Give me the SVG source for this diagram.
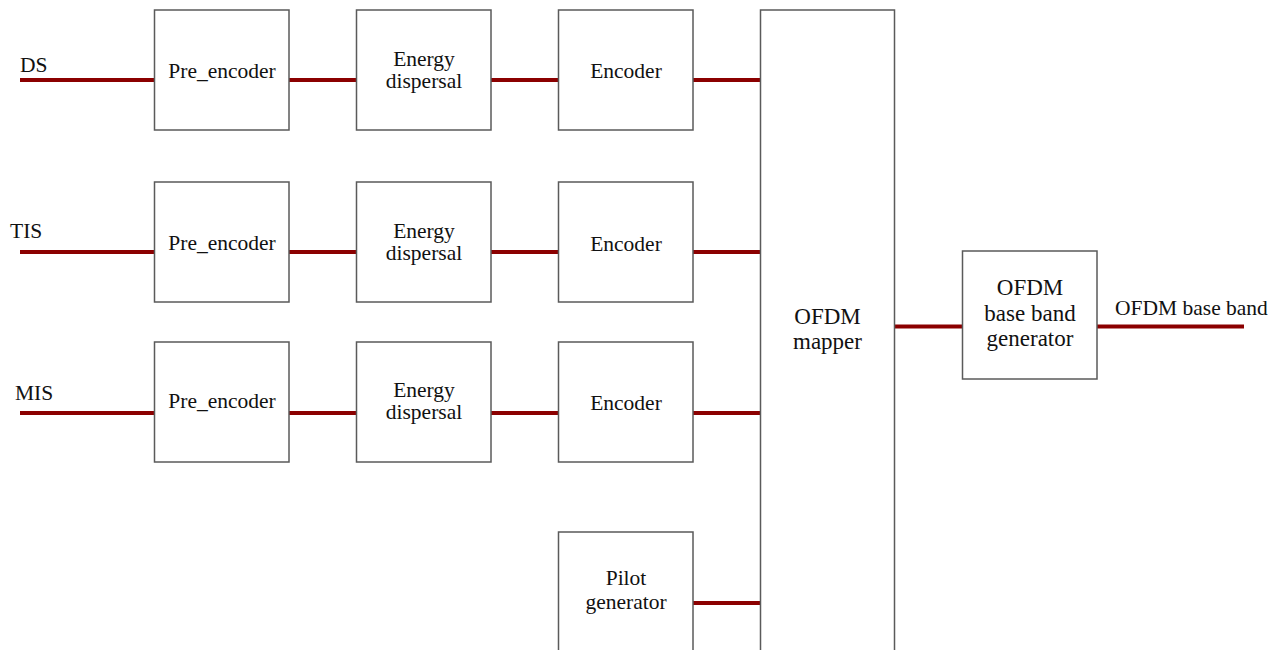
<svg xmlns="http://www.w3.org/2000/svg" width="1277" height="650" viewBox="0 0 1277 650">
<style>
.box{fill:#fff;stroke:#5a5a5a;stroke-width:1.5}
text{fill:#111;font-size:21.5px;font-family:"Liberation Serif","Tinos","Times New Roman","Noto Serif","DejaVu Serif",serif}
.t{text-anchor:middle}
.big{font-size:23px}
.w{stroke:#8b0000;stroke-width:4;fill:none}
</style>
<rect width="1277" height="650" fill="#fff"/>
<g id="connectors">
<line class="w" x1="20" y1="80" x2="154" y2="80"/>
<line class="w" x1="289" y1="80" x2="356" y2="80"/>
<line class="w" x1="491" y1="80" x2="558" y2="80"/>
<line class="w" x1="693" y1="80" x2="760" y2="80"/>
<line class="w" x1="20" y1="252" x2="154" y2="252"/>
<line class="w" x1="289" y1="252" x2="356" y2="252"/>
<line class="w" x1="491" y1="252" x2="558" y2="252"/>
<line class="w" x1="693" y1="252" x2="760" y2="252"/>
<line class="w" x1="20" y1="413" x2="154" y2="413"/>
<line class="w" x1="289" y1="413" x2="356" y2="413"/>
<line class="w" x1="491" y1="413" x2="558" y2="413"/>
<line class="w" x1="693" y1="413" x2="760" y2="413"/>
<line class="w" x1="693" y1="603" x2="760" y2="603"/>
<line class="w" x1="895" y1="326.5" x2="962" y2="326.5"/>
<line class="w" x1="1097" y1="326.5" x2="1244" y2="326.5"/>
</g>
<g id="labels">
<text x="20" y="72">DS</text>
<text x="10" y="238">TIS</text>
<text x="15" y="400">MIS</text>
<text x="1115" y="315">OFDM base band</text>
</g>
<g id="pre1"><rect class="box" x="154.5" y="10" width="134.5" height="120"/><text class="t" x="222" y="78">Pre_encoder</text></g>
<g id="energy1"><rect class="box" x="356.5" y="10" width="134.5" height="120"/><text class="t" x="424" y="66">Energy</text><text class="t" x="424" y="88">dispersal</text></g>
<g id="enc1"><rect class="box" x="558.5" y="10" width="134.5" height="120"/><text class="t" x="626" y="78">Encoder</text></g>
<g id="pre2"><rect class="box" x="154.5" y="182" width="134.5" height="120"/><text class="t" x="222" y="250">Pre_encoder</text></g>
<g id="energy2"><rect class="box" x="356.5" y="182" width="134.5" height="120"/><text class="t" x="424" y="238">Energy</text><text class="t" x="424" y="260">dispersal</text></g>
<g id="enc2"><rect class="box" x="558.5" y="182" width="134.5" height="120"/><text class="t" x="626" y="251">Encoder</text></g>
<g id="pre3"><rect class="box" x="154.5" y="342" width="134.5" height="120"/><text class="t" x="222" y="408">Pre_encoder</text></g>
<g id="energy3"><rect class="box" x="356.5" y="342" width="134.5" height="120"/><text class="t" x="424" y="397">Energy</text><text class="t" x="424" y="419">dispersal</text></g>
<g id="enc3"><rect class="box" x="558.5" y="342" width="134.5" height="120"/><text class="t" x="626" y="410">Encoder</text></g>
<g id="pilot"><rect class="box" x="558.5" y="532" width="134.5" height="140"/><text class="t" x="626" y="585">Pilot</text><text class="t" x="626" y="609">generator</text></g>
<g id="mapper"><rect class="box" x="760.5" y="10" width="134" height="680"/><text class="t big" x="827.5" y="324">OFDM</text><text class="t big" x="827.5" y="349">mapper</text></g>
<g id="bbgen"><rect class="box" x="962.5" y="251" width="134.5" height="128"/><text class="t big" x="1030" y="295">OFDM</text><text class="t big" x="1030" y="321">base band</text><text class="t big" x="1030" y="346">generator</text></g>
</svg>
